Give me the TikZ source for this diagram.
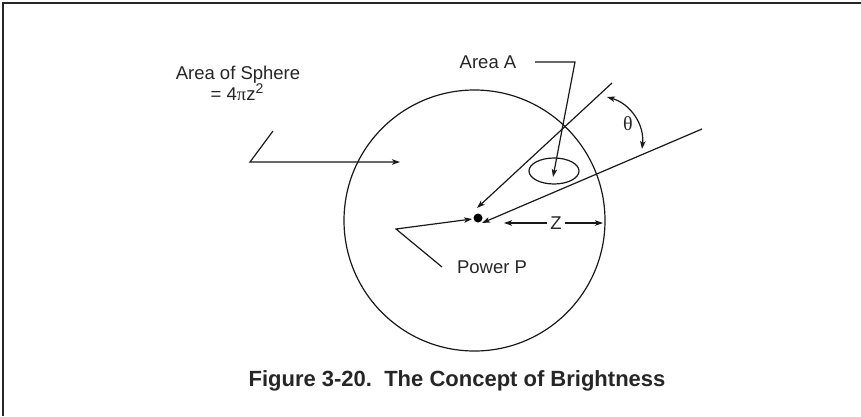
\documentclass[tikz,border=0pt]{standalone}
\usepackage{fontspec}
\setmainfont{Liberation Sans}
\newfontfamily\grk{Liberation Serif}
\usetikzlibrary{arrows.meta,shapes.geometric}
\tikzset{
  ln/.style={line width=1.2pt, draw=black!90},
  arr/.style={ln, -{Stealth[length=8pt,width=5.5pt,inset=2pt]}},
  lbl/.style={font=\fontsize{18.5}{20}\selectfont, inner sep=0pt, text=black!85},
}
\begin{document}
\begin{tikzpicture}[x=1pt,y=-1pt]
\useasboundingbox (0,0) rectangle (861,416);
% frame (top and left edges)
\draw[line width=1.8pt, draw=black!85] (3,416) -- (3,3) -- (861,3);
% sphere
\node[circle, ln, minimum size=261pt, inner sep=0pt] (sphere) at (474.5,220.5) {};
% source point
\node[circle, fill=black, inner sep=0pt, minimum size=9pt] (dot) at (478,218) {};
% area A ellipse
\node[ellipse, ln, minimum width=50pt, minimum height=26pt, inner sep=0pt] (areaEll) at (554,171) {};
% labels
\node[lbl] (sphLbl) at (238,75) {Area of Sphere};
\node[lbl, anchor=base] (sphEq) at (237,100) {= 4{\grk π}z\raisebox{0.33em}{\fontsize{14}{14}\selectfont 2}};
\node[lbl] (areaA) at (488,62) {Area A};
\node[lbl] (power) at (492,267) {Power P};
\node[lbl] (zlbl) at (556,223) {Z};
\node[font=\grk\fontsize{20}{20}\selectfont, inner sep=0pt, text=black!85] (theta) at (628,124) {θ};
\node[font=\bfseries\fontsize{22}{24}\selectfont, inner sep=0pt, text=black!85] (caption) at (457,381) {Figure 3-20.\ \ The Concept of Brightness};
% coordinates
\coordinate (s1) at (273,131);
\coordinate (s2) at (250,162);
\coordinate (s3) at (400,162);
\coordinate (a1) at (535,62);
\coordinate (a2) at (575,62);
\coordinate (a3) at (553,177);
\coordinate (r1a) at (612,83);
\coordinate (r1b) at (477,208);
\coordinate (r2a) at (702,129);
\coordinate (r2b) at (482,223);
\coordinate (p1) at (442,267);
\coordinate (p2) at (396,229);
\coordinate (p3) at (472,219);
\coordinate (z1) at (504,223);
\coordinate (z2) at (603,223);
\coordinate (t1) at (607,97);
\coordinate (t2) at (642,149);
% connectors
\draw[arr] (s1) -- (s2) -- (s3);
\draw[arr] (a1) -- (a2) -- (a3);
\draw[arr] (r1a) -- (r1b);
\draw[arr] (r2a) -- (r2b);
\draw[arr] (p1) -- (p2) -- (p3);
\draw[arr] ([xshift=-3pt]zlbl.west) -- (z1);
\draw[arr] ([xshift=3pt]zlbl.east) -- (z2);
\draw[ln, {Stealth[length=8pt,width=5.5pt,inset=2pt]}-{Stealth[length=8pt,width=5.5pt,inset=2pt]}] (t1) to[bend left=40] (t2);
\end{tikzpicture}
\end{document}
